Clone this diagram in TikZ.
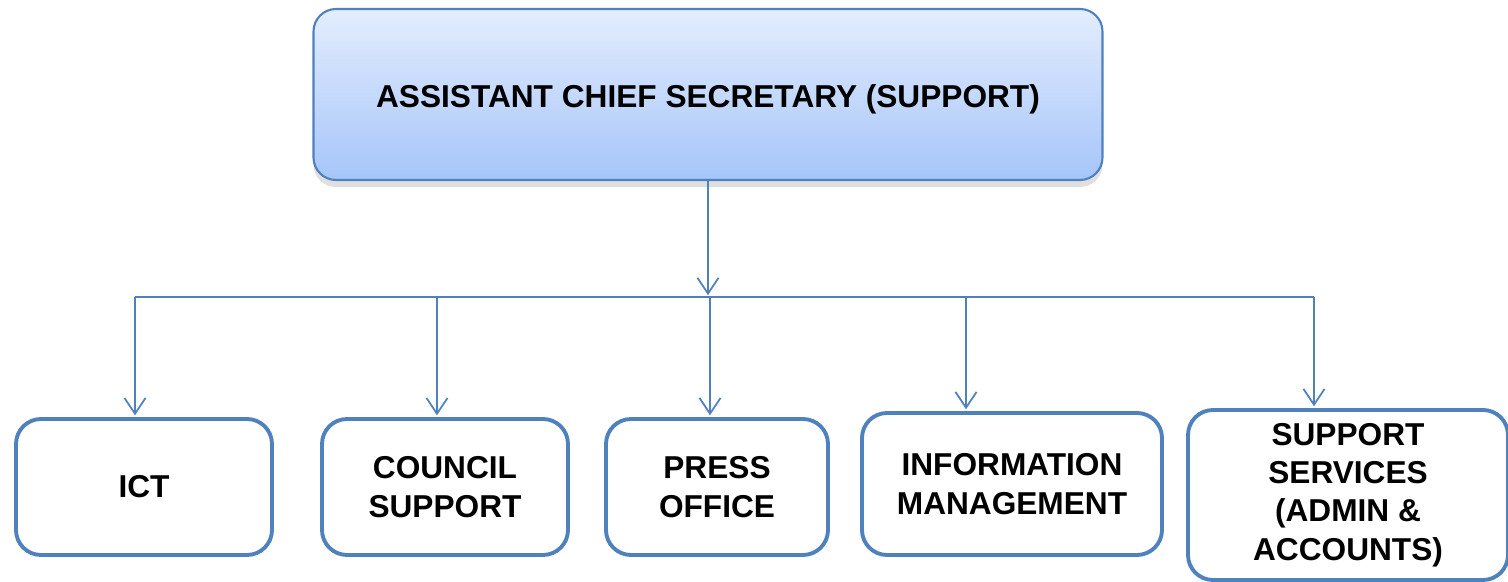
\documentclass[tikz,border=0pt]{standalone}
\usepackage{fontspec}
\setmainfont{Liberation Sans}
\usetikzlibrary{%
  arrows.meta,%
  shadows,% drop shadow under the head box
  positioning%
}
\definecolor{officeblue}{HTML}{4F81BD}
\definecolor{headtop}{HTML}{E3EDFD}
\definecolor{headbottom}{HTML}{A6C5FA}

\begin{document}
\begin{tikzpicture}
[draw=officeblue, line width=1pt, >={Straight Barb[length=9pt,width=12pt]},
head/.style={rectangle, draw=officeblue, line width=1.2pt, rounded corners=4.5mm, top color=headtop, bottom color=headbottom, inner sep=0pt, minimum width=15.78cm, minimum height=3.42cm, text height=0.6cm, text depth=0.09cm, font=\bfseries\fontsize{18}{22}\selectfont, drop shadow={shadow xshift=0pt, shadow yshift=-4pt, opacity=0.25}},
unit/.style={rectangle, draw=officeblue, line width=2.2pt, rounded corners=5mm, fill=white, inner sep=0pt, align=center, font=\bfseries\fontsize{18}{21.8}\selectfont},
link/.style={->, draw=officeblue, line width=1pt, shorten >=1pt}]

\useasboundingbox (0,0) rectangle (30.16,11.64);

\node[head] (acs) at (14.16,9.75) {ASSISTANT CHIEF SECRETARY (SUPPORT)};

\node[unit, minimum width=5.12cm, minimum height=2.72cm] (ict) at (2.88,1.9) {ICT};
\node[unit, minimum width=4.92cm, minimum height=2.72cm] (council) at (8.9,1.9) {COUNCIL\\SUPPORT};
\node[unit, minimum width=4.44cm, minimum height=2.72cm] (press) at (14.34,1.9) {PRESS\\OFFICE};
\node[unit, minimum width=6.0cm, minimum height=2.84cm] (info) at (20.24,1.96) {INFORMATION\\MANAGEMENT};
\node[unit, minimum width=6.4cm, minimum height=3.4cm] (supp) at (26.96,1.74) {SUPPORT\\SERVICES\\(ADMIN \&\\ACCOUNTS)};

% bus line
\coordinate (b1) at (2.70,5.70);
\coordinate (b2) at (8.74,5.70);
\coordinate (b3) at (14.20,5.70);
\coordinate (b4) at (19.32,5.70);
\coordinate (b5) at (26.28,5.70);

\draw[link] (acs.south) -- (acs.south |- b1);
\draw[draw=officeblue, line width=1pt] (b1) -- (b5);

\draw[link] (b1) -- (b1 |- ict.north);
\draw[link] (b2) -- (b2 |- council.north);
\draw[link] (b3) -- (b3 |- press.north);
\draw[link] (b4) -- (b4 |- info.north);
\draw[link] (b5) -- (b5 |- supp.north);

\end{tikzpicture}
\end{document}
